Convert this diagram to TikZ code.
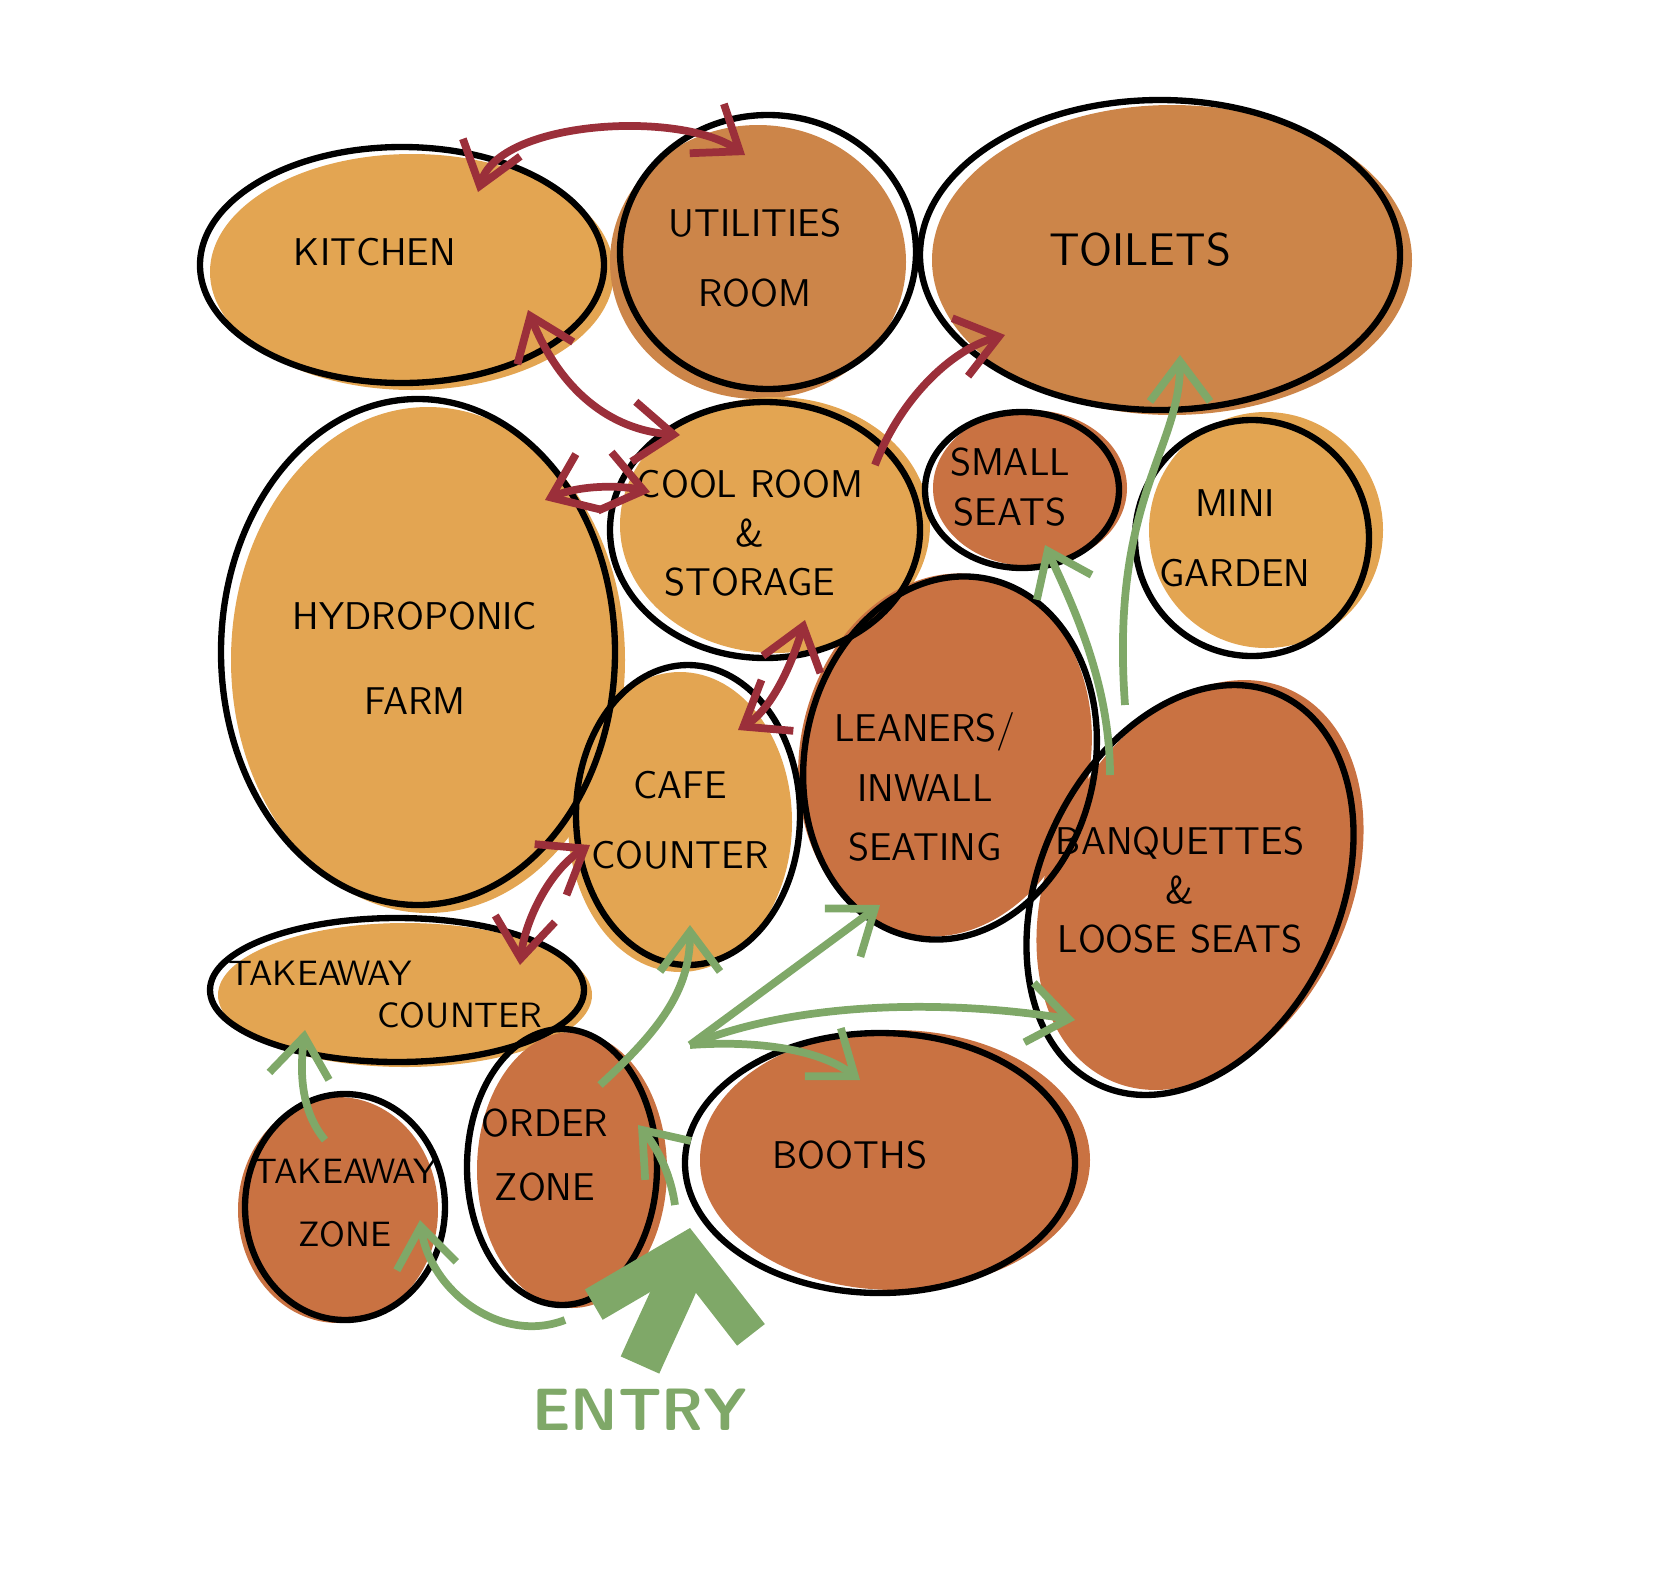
\documentclass[tikz,border=0pt]{standalone}
\usetikzlibrary{shapes.geometric,arrows.meta}
\definecolor{lt}{HTML}{E3A552}
\definecolor{md}{HTML}{CC8549}
\definecolor{dk}{HTML}{C97242}
\definecolor{rd}{HTML}{9B2F3A}
\definecolor{gr}{HTML}{7FA868}
\tikzset{
  bub/.style={ellipse,inner sep=0pt,draw=none},
  ring/.style={ellipse,inner sep=0pt,draw=black,line width=1.8pt},
  sz/.style 2 args={minimum width=#1*0.01cm,minimum height=#2*0.01cm},
  lbl/.style={font=\sffamily\fontsize{11}{20}\selectfont,align=center},
  tight/.style={font=\sffamily\fontsize{11}{14}\selectfont},
  red/.style={draw=rd,line width=2.2pt,{Straight Barb[length=4mm,width=6mm]}-{Straight Barb[length=4mm,width=6mm]}},
  grn/.style={draw=gr,line width=2.2pt,-{Straight Barb[length=4mm,width=6mm]}}
}
\begin{document}
\begin{tikzpicture}[x=0.01cm,y=-0.01cm]
    \useasboundingbox (0,0) rectangle (1660,1575);

    % shadows
    \node [bub,fill=lt,sz={404}{236}] at (412,272) {};
    \node [bub,fill=md,sz={296}{274}] at (758,262) {};
    \node [bub,fill=md,sz={480}{310}] at (1172,260) {};
    \node [bub,fill=lt,sz={394}{506}] at (428,660) {};
    \node [bub,fill=lt,sz={310}{256}] at (775,525) {};
    \node [bub,fill=dk,sz={194}{156}] at (1030,488) {};
    \node [bub,fill=lt,sz={234}{236}] at (1266,530) {};
    \node [bub,fill=dk,sz={290}{366},rotate=-12] at (945,755) {};
    \node [bub,fill=lt,sz={224}{300}] at (680,822) {};
    \node [bub,fill=dk,sz={300}{430},rotate=-25] at (1200,885) {};
    \node [bub,fill=lt,sz={374}{144}] at (405,995) {};
    \node [bub,fill=dk,sz={200}{226}] at (338,1210) {};
    \node [bub,fill=dk,sz={190}{276}] at (572,1170) {};
    \node [bub,fill=dk,sz={390}{260}] at (895,1160) {};

    % outlines
    \node (kitchen) [ring,sz={404}{236}] at (402,265) {};
    \node (util) [ring,sz={296}{274}] at (768,252) {};
    \node (toilets) [ring,sz={480}{310}] at (1160,255) {};
    \node (farm) [ring,sz={394}{506}] at (418,652) {};
    \node (cool) [ring,sz={310}{256}] at (765,530) {};
    \node (small) [ring,sz={194}{156}] at (1022,490) {};
    \node (garden) [ring,sz={234}{236}] at (1252,538) {};
    \node (lean) [ring,sz={290}{366},rotate=-12] at (950,758) {};
    \node (cafe) [ring,sz={224}{300}] at (688,815) {};
    \node (banq) [ring,sz={300}{430},rotate=-25] at (1190,890) {};
    \node (tcount) [ring,sz={374}{144}] at (397,990) {};
    \node (tzone) [ring,sz={200}{226}] at (345,1207) {};
    \node (order) [ring,sz={190}{276}] at (562,1167) {};
    \node (booths) [ring,sz={390}{260}] at (880,1163) {};

    % labels
    \node [lbl] at (375,252) {KITCHEN};
    \node [lbl] at (755,258) {UTILITIES\\ROOM};
    \node [lbl,font=\sffamily\fontsize{13}{20}\selectfont] at (1140,250) {TOILETS};
    \node [lbl] at (415,658) {HYDROPONIC\\[4pt]FARM};
    \node [lbl,tight] at (750,533) {COOL ROOM\\\&\\STORAGE};
    \node [lbl,tight] at (1010,487) {SMALL\\SEATS};
    \node [lbl] at (1235,538) {MINI\\GARDEN};
    \node [lbl,tight,font=\sffamily\fontsize{11}{17}\selectfont] at (925,787) {LEANERS/\\INWALL\\SEATING};
    \node [lbl] at (680,820) {CAFE\\COUNTER};
    \node [lbl,tight] at (1180,890) {BANQUETTES\\\&\\LOOSE SEATS};
    \node [lbl,font=\sffamily\fontsize{10}{12}\selectfont] at (380,995) {TAKEAWAY\hspace*{1.2cm}\\\hspace*{1.6cm}COUNTER};
    \node [lbl,font=\sffamily\fontsize{10}{18}\selectfont] at (345,1203) {TAKEAWAY\\ZONE};
    \node [lbl,font=\sffamily\fontsize{11}{18}\selectfont] at (545,1155) {ORDER\\ZONE};
    \node [lbl] at (850,1155) {BOOTHS};
    \node (entry) [lbl,text=gr,font=\sffamily\bfseries\fontsize{17}{20}\selectfont] at (640,1410) {ENTRY};

    % red links
    \coordinate (k1) at (478,192);
    \coordinate (u1) at (745,155);
    \coordinate (k2) at (528,310);
    \coordinate (c1) at (680,435);
    \coordinate (f1) at (545,500);
    \coordinate (c2) at (650,492);
    \coordinate (c3) at (805,620);
    \coordinate (ca1) at (738,730);
    \coordinate (ca2) at (590,845);
    \coordinate (t1) at (520,965);
    \coordinate (c4) at (875,465);
    \coordinate (to1) at (1005,335);
    \draw [red] (k1) .. controls (500,120) and (680,110) .. (u1);
    \draw [red] (k2) .. controls (560,390) and (610,430) .. (c1);
    \draw [red] (f1) .. controls (580,485) and (620,485) .. (c2);
    \draw [red] (c3) .. controls (790,670) and (770,710) .. (ca1);
    \draw [red] (ca2) .. controls (550,870) and (525,920) .. (t1);
    \draw [draw=rd,line width=2.2pt,-{Straight Barb[length=4mm,width=6mm]}] (c4) .. controls (900,400) and (950,350) .. (to1);

    % green flows
    \coordinate (e0) at (640,1365);
    \coordinate (e1) at (690,1228);
    \coordinate (o1) at (675,1205);
    \coordinate (o2) at (638,1125);
    \coordinate (o3) at (600,1085);
    \coordinate (ca3) at (690,925);
    \coordinate (tz1) at (325,1140);
    \coordinate (tc1) at (305,1030);
    \coordinate (o4) at (565,1320);
    \coordinate (tz2) at (420,1220);
    \coordinate (hub) at (690,1045);
    \coordinate (l1) at (880,905);
    \coordinate (b1) at (1075,1020);
    \coordinate (bo1) at (860,1080);
    \coordinate (b2) at (1110,775);
    \coordinate (s1) at (1045,545);
    \coordinate (b3) at (1125,705);
    \coordinate (to2) at (1180,355);
    \draw [draw=gr,line width=12pt,-{Straight Barb[length=7mm,width=16mm,line width=10pt]}] (e0) .. controls (660,1320) and (680,1280) .. (e1);
    \draw [grn] (o1) .. controls (670,1170) and (655,1145) .. (o2);
    \draw [grn] (o3) .. controls (660,1030) and (690,990) .. (ca3);
    \draw [grn] (tz1) .. controls (300,1110) and (300,1070) .. (tc1);
    \draw [grn] (o4) .. controls (500,1345) and (430,1290) .. (tz2);
    \draw [grn] (hub) -- (l1);
    \draw [grn] (hub) .. controls (800,1000) and (950,1000) .. (b1);
    \draw [grn] (hub) .. controls (760,1040) and (820,1050) .. (bo1);
    \draw [grn] (b2) .. controls (1110,680) and (1070,600) .. (s1);
    \draw [grn] (b3) .. controls (1110,500) and (1180,450) .. (to2);
\end{tikzpicture}
\end{document}
